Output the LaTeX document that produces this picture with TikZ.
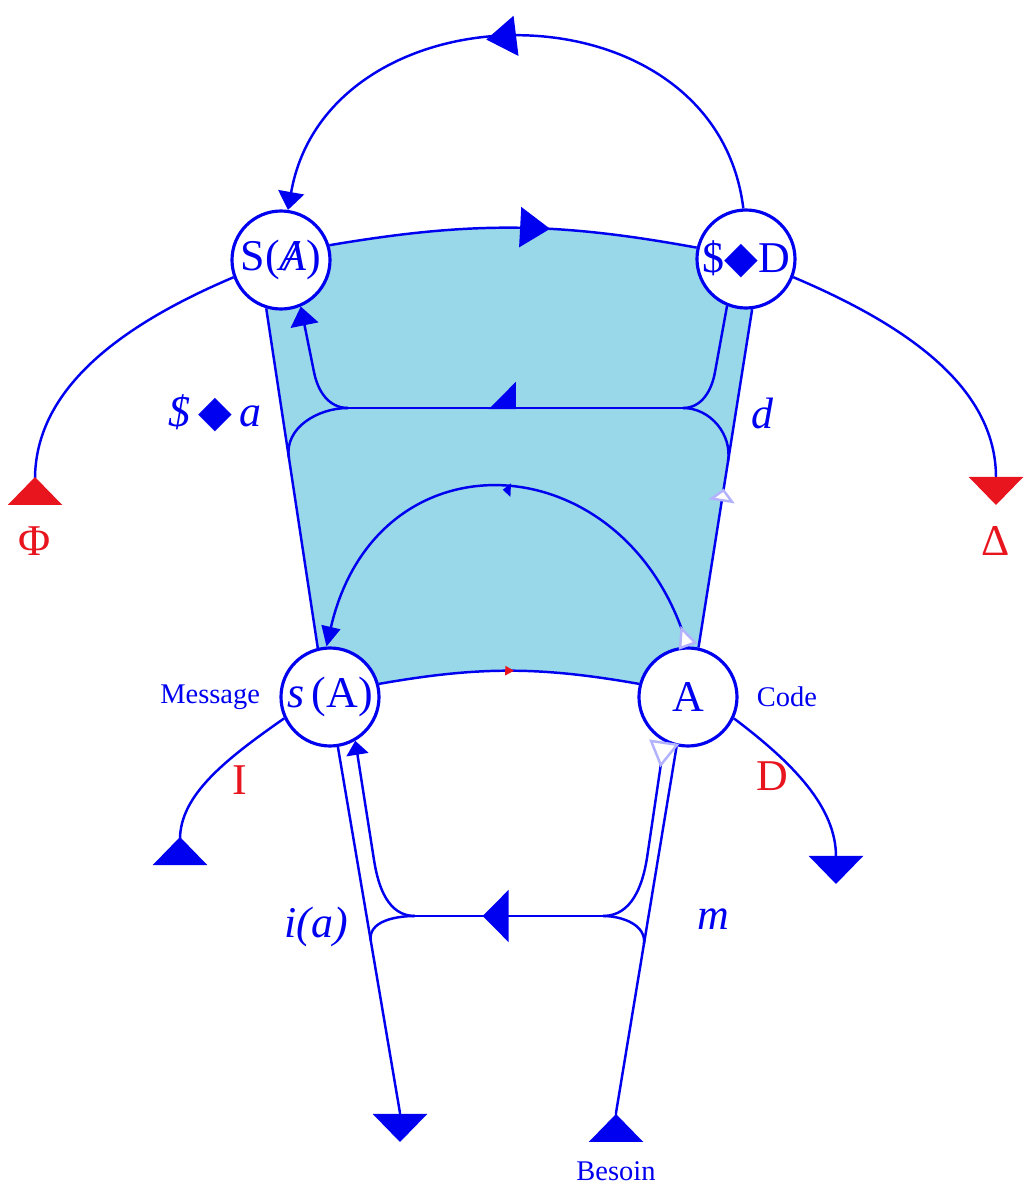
\documentclass[tikz,border=0pt]{standalone}
\usepackage{fontspec}
\setmainfont{Liberation Serif}
\newfontfamily\djv{DejaVu Sans}
\usepackage{tikz}
\usetikzlibrary{arrows.meta,positioning,calc,decorations.markings,backgrounds}

\definecolor{lacanblue}{RGB}{0,0,240}
\definecolor{lacanred}{RGB}{232,20,30}
\definecolor{lacanfill}{RGB}{152,216,232}

\newcommand{\dia}{{\djv\upshape ◆}}

\tikzset{
  graphnode/.style={circle, draw=lacanblue, line width=0.9pt, fill=white, minimum size=0.98cm, inner sep=0pt, text=lacanblue, font=\fontsize{12.5}{14}\selectfont},
  wire/.style={lacanblue, line width=0.7pt},
  lbl/.style={text=lacanblue, font=\fontsize{12.5}{14}\selectfont\itshape},
  tinylbl/.style={text=lacanblue, font=\fontsize{8.1}{10}\selectfont},
  redlbl/.style={text=lacanred, font=\fontsize{12.5}{14}\selectfont},
  midtip/.style 2 args={postaction={decorate,decoration={markings,mark=at position #1 with {\arrow{#2}}}}},
  endtri/.style={-{Triangle[width=5.4mm,length=2.8mm]}},
  backtri/.style={-{Triangle[reversed,width=5.4mm,length=2.8mm]}},
}

\begin{document}
\begin{tikzpicture}
    \useasboundingbox (0,0) rectangle (10.25,11.91);

    % the four places
    \node[graphnode] (SA) at (2.81,9.31) {S(\ooalign{\textit{A}\cr\hidewidth\textit{/}\hidewidth})};
    \node[graphnode] (SD) at (7.46,9.32) {\$\dia D};
    \node[graphnode] (sA) at (3.30,4.94) {\textit{s}\,(A)};
    \node[graphnode] (A) at (6.88,4.94) {A};

    % shaded field
    \begin{scope}[on background layer]
        \fill[lacanfill] (SA.253) -- (sA.104) -- (sA.15) to[bend left=10] (A.165) -- (A.78) -- (SD.277) -- (SD.167) to[bend right=10] (SA.17) -- cycle;
    \end{scope}

    % sides of the field
    \draw[wire, midtip={0.6}{Triangle[width=4mm,length=3mm]}] (SA.17) to[bend left=10] (SD.167);
    \draw[wire, midtip={0.52}{Triangle[width=0.9mm,length=0.9mm,color=lacanred]}] (sA.15) to[bend left=10] (A.165);
    \draw[wire] (SA.253) -- (sA.104);
    \draw[wire, midtip={0.47}{Triangle[width=2.6mm,length=1.3mm,fill=white,color=blue!30]}] (A.78) -- (SD.277);

    % big upper loop
    \draw[wire, -{Triangle[width=2.6mm,length=1.8mm]}, midtip={0.55}{Triangle[width=4mm,length=3mm]}] (SD.93) to[out=97, in=80, looseness=1.3] (SA.82);

    % outer branches
    \coordinate (phiB) at (0.35,6.86);
    \coordinate (deltaT) at (9.96,6.86);
    \coordinate (iB) at (1.80,3.26);
    \coordinate (dT) at (8.36,3.07);
    \draw[wire, -{Triangle[reversed,width=5.4mm,length=2.8mm,color=lacanred]}] (SA.200) to[out=203, in=90] (phiB);
    \draw[wire, -{Triangle[width=5.4mm,length=2.8mm,color=lacanred]}] (SD.339) to[out=-23, in=90] (deltaT);
    \draw[wire, backtri] (sA.205) to[out=215, in=90] (iB);
    \draw[wire, endtri] (A.335) to[out=-37, in=90] (dT);

    % upper inner line
    \coordinate (rUp) at (7.15,8.19);
    \coordinate (jr) at (6.83,7.83);
    \coordinate (jl) at (3.48,7.83);
    \coordinate (lUp) at (3.14,8.19);
    \coordinate (eL) at ($(SA.253)!0.44!(sA.104)$);
    \coordinate (eR) at ($(SD.277)!0.45!(A.78)$);
    \draw[wire] (SD.248) -- (rUp) to[out=260, in=0] (jr);
    \draw[wire, midtip={0.58}{Triangle[harpoon,swap,width=5.2mm,length=2.6mm]}] (jr) -- (jl);
    \draw[wire, -{Triangle[width=2.8mm,length=1.9mm]}] (jl) to[out=180, in=281] (lUp) -- (SA.293);
    \draw[wire] (jl) to[out=180, in=99] (eL);
    \draw[wire] (jr) to[out=0, in=81] (eR);

    % inner arc
    \draw[wire, {Triangle[reversed,width=1.9mm,length=2.2mm,fill=white,color=blue!30]}-{Triangle[width=1.9mm,length=2mm]}, midtip={0.5}{Triangle[width=1.3mm,length=0.8mm]}] (A.90) to[out=110, in=77, looseness=1.55] (sA.94);

    % lower part
    \coordinate (bUpR) at (6.47,3.33);
    \coordinate (jbr) at (6.03,2.75);
    \coordinate (jbl) at (4.15,2.75);
    \coordinate (bUpL) at (3.74,3.31);
    \coordinate (botB) at (4.00,0.78);
    \coordinate (botT) at (4.00,0.49);
    \coordinate (besT) at (6.16,0.78);
    \coordinate (besB) at (6.16,0.49);
    \coordinate (eBL) at ($(sA.279)!0.53!(botB)$);
    \coordinate (eBR) at ($(A.257)!0.54!(besT)$);
    \draw[wire, endtri] (sA.279) -- (botB) -- (botT);
    \draw[wire, backtri] (A.257) -- (besT) -- (besB);
    \draw[wire, {Triangle[reversed,width=3mm,length=2.6mm,fill=white,color=blue!30]}-] (A.242) -- (bUpR) to[out=261, in=0] (jbr);
    \draw[wire, midtip={0.64}{Triangle[width=5.2mm,length=2.6mm]}] (jbr) -- (jbl);
    \draw[wire, -{Triangle[width=2.2mm,length=1.4mm]}] (jbl) to[out=180, in=279] (bUpL) -- (sA.300);
    \draw[wire] (jbl) to[out=180, in=99] (eBL);
    \draw[wire] (jbr) to[out=0, in=81] (eBR);

    % labels
    \node[lbl] (lblSa) at (2.15,7.78) {\$\,\dia\,a};
    \node[lbl] (lblD) at (7.62,7.78) {d};
    \node[lbl] (lblIa) at (3.16,2.64) {i(a)};
    \node[lbl] (lblM) at (7.13,2.72) {m};
    \node[tinylbl, left=0.07cm of sA] (lblMsg) {Message};
    \node[tinylbl, right=0.06cm of A] (lblCode) {Code};
    \node[tinylbl, below=0.07cm of besB] (lblBes) {Besoin};
    \node[redlbl] (lblI) at (2.40,4.11) {I};
    \node[redlbl] (lblDr) at (7.72,4.15) {D};
    \node[redlbl, below=0.09cm of phiB] (lblPhi) {Φ};
    \node[redlbl, below=0.09cm of deltaT] (lblDelta) {Δ};
\end{tikzpicture}
\end{document}
